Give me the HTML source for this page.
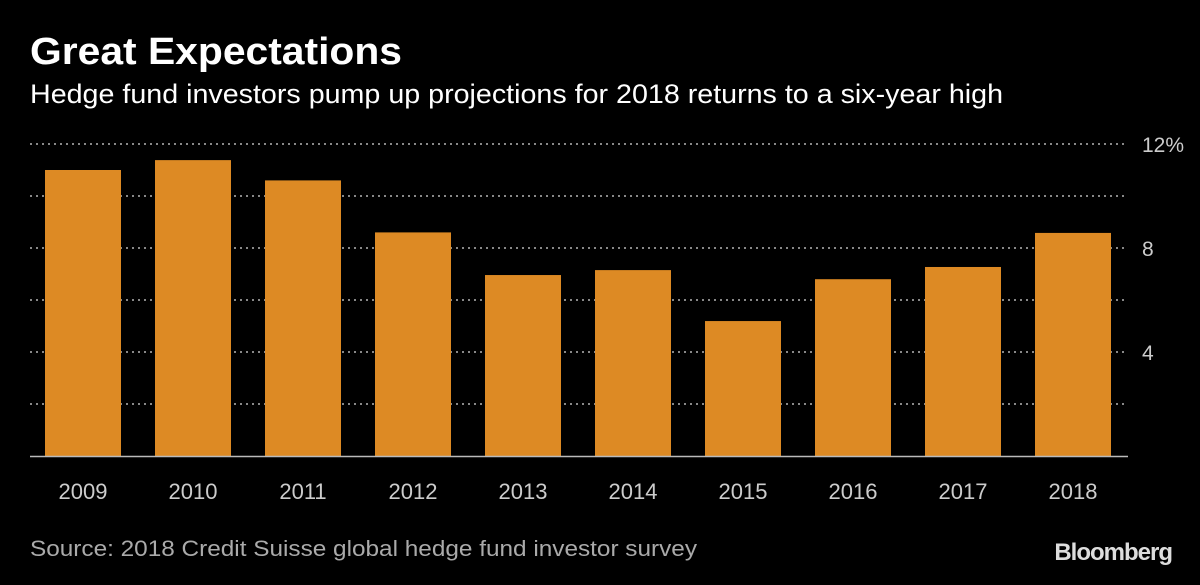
<!DOCTYPE html>
<html><head><meta charset="utf-8">
<style>
body{margin:0;background:#000;width:1200px;height:580px;overflow:hidden;font-family:"Liberation Sans",sans-serif;}
</style></head>
<body>
<svg width="1200" height="580">
<rect width="1200" height="580" fill="#000"/>
<text x="30" y="64" fill="#fff" font-size="38" font-weight="bold" textLength="372" lengthAdjust="spacingAndGlyphs">Great Expectations</text>
<text x="30" y="103" fill="#fff" font-size="27" textLength="973" lengthAdjust="spacingAndGlyphs">Hedge fund investors pump up projections for 2018 returns to a six-year high</text>
<g id="grid"></g>
<g id="bars"></g>
<g id="xlabels"></g>
<line x1="30" x2="1128" y1="456.5" y2="456.5" stroke="#bbb" stroke-width="1.5"/>
<text x="30" y="556" fill="#aaa" font-size="22" textLength="667" lengthAdjust="spacingAndGlyphs">Source: 2018 Credit Suisse global hedge fund investor survey</text>
<text x="1172" y="560" fill="#ddd" font-size="24" font-weight="bold" text-anchor="end" letter-spacing="-1">Bloomberg</text>
</svg>
<script>
const categories=["2009","2010","2011","2012","2013","2014","2015","2016","2017","2018"];
const values=[11.0,11.38,10.6,8.6,6.96,7.15,5.19,6.8,7.27,8.58];
const gridValues=[2,4,6,8,10,12];
const tickLabels=["","4","","8","","12%"];
const NS="http://www.w3.org/2000/svg";
const y=v=>456-v*26;
const x=i=>45+i*110;
const g=document.getElementById('grid'),b=document.getElementById('bars'),xl=document.getElementById('xlabels');
gridValues.forEach((v,i)=>{
 const l=document.createElementNS(NS,'line');
 l.setAttribute('x1',30);l.setAttribute('x2',1128);l.setAttribute('y1',y(v));l.setAttribute('y2',y(v));
 l.setAttribute('stroke','#888');l.setAttribute('stroke-width','2');l.setAttribute('stroke-dasharray','2,4');
 
 
 g.appendChild(l);
 if(tickLabels[i]){
  const t=document.createElementNS(NS,'text');
  t.setAttribute('x',1142);t.setAttribute('y',y(v)+8);t.setAttribute('fill','#ccc');t.setAttribute('font-size','21');
  t.textContent=tickLabels[i];
  
  
  g.appendChild(t);
 }
});
categories.forEach((c,i)=>{
 const r=document.createElementNS(NS,'rect');
 r.setAttribute('x',x(i));r.setAttribute('width',76);r.setAttribute('y',y(values[i]));r.setAttribute('height',456-y(values[i]));
 r.setAttribute('fill','#dd8a24');
 
 
 b.appendChild(r);
 const t=document.createElementNS(NS,'text');
 t.setAttribute('x',x(i)+38);t.setAttribute('y',499);t.setAttribute('fill','#ccc');t.setAttribute('font-size','22');t.setAttribute('text-anchor','middle');
 t.textContent=c;
 
 
 xl.appendChild(t);
});
</script>
</body></html>
